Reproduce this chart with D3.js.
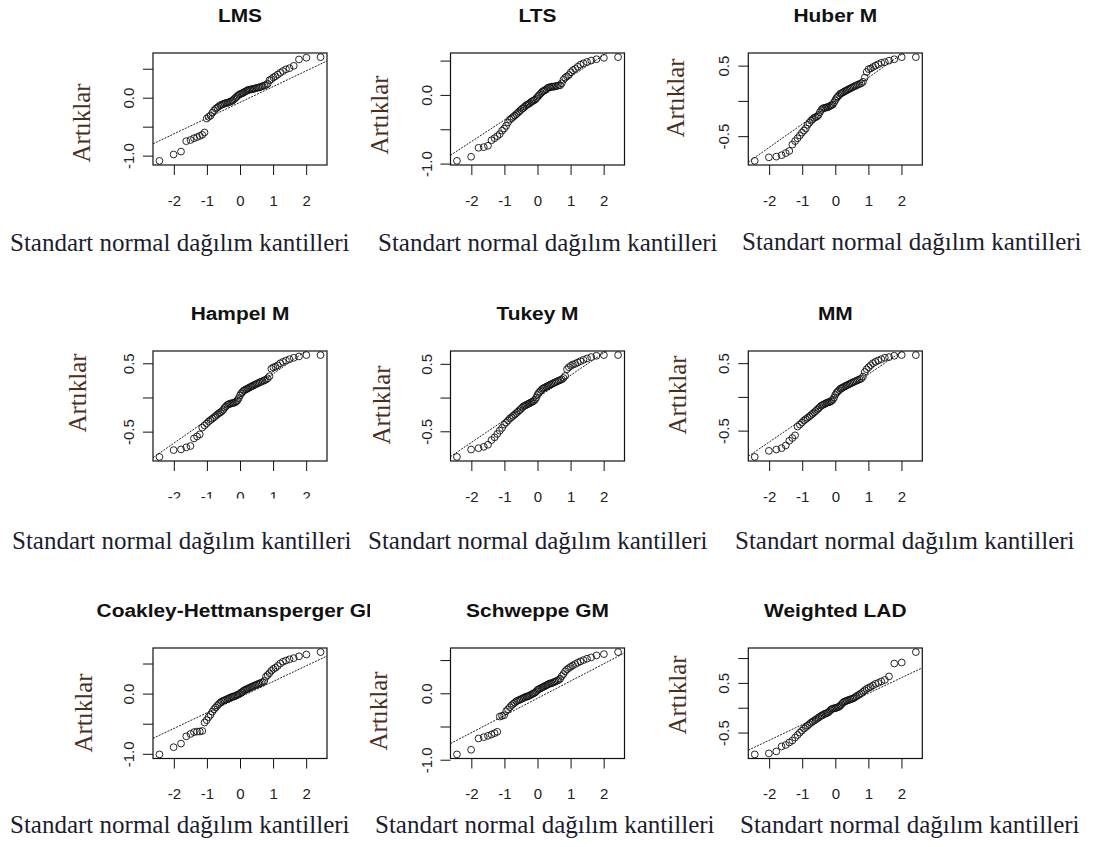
<!DOCTYPE html>
<html>
<head>
<meta charset="utf-8">
<script src="https://cdn.jsdelivr.net/npm/d3@7"></script>
<style>
  body { margin: 0; background: #fff; }
  svg { display: block; }
</style>
</head>
<body>
<script>

// theoretical normal quantiles, n = 67
var quantiles = [-2.435,-2.007,-1.783,-1.624,-1.497,-1.391,-1.298,-1.216,-1.141,-1.072,-1.008,-0.948,-0.891,-0.836,-0.784,-0.734,-0.686,-0.639,-0.594,-0.550,-0.507,-0.465,-0.424,-0.383,-0.343,-0.304,-0.265,-0.227,-0.189,-0.151,-0.113,-0.075,-0.037,0,
  0.037,0.075,0.113,0.151,0.189,0.227,0.265,0.304,0.343,0.383,0.424,0.465,0.507,0.550,0.594,0.639,0.686,0.734,0.784,0.836,0.891,0.948,1.008,1.072,1.141,1.216,1.298,1.391,1.497,1.624,1.783,2.007,2.435];

var titles = ["LMS", "LTS", "Huber M", "Hampel M", "Tukey M", "MM", "Coakley-Hettmansperger GM", "Schweppe GM", "Weighted LAD"];

// sorted residuals
var lmsResid = [-1.09,-0.98,-0.93,-0.75,-0.73,-0.70,-0.68,-0.66,-0.64,-0.60,-0.36,-0.33,-0.31,-0.26,-0.22,-0.19,-0.17,-0.15,-0.13,-0.12,-0.11,-0.10,-0.09,-0.09,-0.08,-0.07,-0.06,-0.05,-0.03,-0.01,0.01,0.03,0.05,0.06,
  0.07,0.08,0.09,0.105,0.115,0.13,0.135,0.14,0.145,0.15,0.155,0.16,0.17,0.175,0.18,0.19,0.20,0.21,0.22,0.24,0.30,0.32,0.35,0.37,0.40,0.43,0.46,0.49,0.51,0.55,0.66,0.69,0.70];
var ltsResid = [-0.96,-0.90,-0.77,-0.76,-0.74,-0.66,-0.63,-0.60,-0.57,-0.52,-0.49,-0.45,-0.40,-0.36,-0.34,-0.32,-0.30,-0.28,-0.26,-0.24,-0.22,-0.20,-0.19,-0.17,-0.15,-0.14,-0.13,-0.12,-0.10,-0.09,-0.08,-0.07,-0.05,-0.03,
  -0.01,0.01,0.03,0.05,0.06,0.07,0.08,0.10,0.11,0.11,0.12,0.12,0.12,0.13,0.13,0.14,0.14,0.17,0.22,0.25,0.27,0.29,0.33,0.36,0.38,0.41,0.44,0.46,0.48,0.50,0.52,0.54,0.55];
var huberResid = [-0.85,-0.80,-0.79,-0.77,-0.74,-0.71,-0.62,-0.57,-0.53,-0.49,-0.45,-0.42,-0.39,-0.34,-0.31,-0.28,-0.26,-0.24,-0.23,-0.22,-0.20,-0.16,-0.13,-0.11,-0.10,-0.10,-0.09,-0.09,-0.08,-0.07,-0.06,-0.05,-0.02,0.01,
  0.04,0.06,0.08,0.10,0.11,0.12,0.13,0.14,0.15,0.16,0.17,0.18,0.19,0.20,0.21,0.22,0.23,0.24,0.25,0.27,0.33,0.41,0.45,0.46,0.48,0.50,0.52,0.54,0.55,0.57,0.59,0.62,0.62];
var hampelResid = [-0.87,-0.77,-0.76,-0.73,-0.71,-0.60,-0.57,-0.54,-0.44,-0.41,-0.38,-0.35,-0.33,-0.31,-0.29,-0.27,-0.25,-0.23,-0.22,-0.20,-0.18,-0.15,-0.13,-0.11,-0.10,-0.09,-0.09,-0.08,-0.08,-0.07,-0.06,-0.04,-0.01,0.03,
  0.06,0.08,0.10,0.11,0.12,0.13,0.14,0.15,0.16,0.17,0.18,0.19,0.20,0.21,0.22,0.23,0.24,0.25,0.26,0.28,0.31,0.42,0.44,0.45,0.47,0.50,0.52,0.54,0.56,0.58,0.60,0.62,0.62];
var tukeyResid = [-0.88,-0.77,-0.75,-0.73,-0.70,-0.63,-0.59,-0.54,-0.49,-0.45,-0.40,-0.37,-0.34,-0.31,-0.29,-0.27,-0.25,-0.23,-0.21,-0.19,-0.17,-0.15,-0.13,-0.12,-0.11,-0.10,-0.09,-0.08,-0.07,-0.06,-0.05,-0.03,0.00,0.04,
  0.07,0.09,0.11,0.13,0.14,0.15,0.16,0.17,0.18,0.19,0.20,0.21,0.22,0.23,0.24,0.25,0.26,0.27,0.29,0.32,0.42,0.45,0.47,0.49,0.50,0.52,0.54,0.56,0.58,0.60,0.62,0.63,0.63];
var mmResid = [-0.89,-0.80,-0.78,-0.76,-0.72,-0.65,-0.61,-0.57,-0.44,-0.41,-0.38,-0.35,-0.33,-0.31,-0.29,-0.27,-0.25,-0.23,-0.21,-0.19,-0.17,-0.15,-0.13,-0.12,-0.11,-0.10,-0.09,-0.08,-0.08,-0.07,-0.06,-0.04,-0.01,0.03,
  0.06,0.08,0.10,0.12,0.13,0.14,0.15,0.16,0.17,0.18,0.19,0.20,0.21,0.22,0.23,0.24,0.25,0.26,0.27,0.30,0.37,0.41,0.44,0.47,0.50,0.52,0.54,0.56,0.58,0.59,0.61,0.62,0.62];
var chResid = [-1.01,-0.89,-0.83,-0.71,-0.67,-0.64,-0.63,-0.63,-0.62,-0.48,-0.44,-0.39,-0.35,-0.30,-0.26,-0.23,-0.20,-0.17,-0.15,-0.13,-0.12,-0.11,-0.10,-0.09,-0.08,-0.07,-0.06,-0.05,-0.05,-0.04,-0.03,-0.02,-0.01,0.00,
  0.02,0.03,0.05,0.06,0.07,0.08,0.09,0.10,0.11,0.12,0.13,0.14,0.15,0.16,0.17,0.18,0.19,0.21,0.28,0.31,0.34,0.38,0.41,0.43,0.46,0.50,0.53,0.55,0.57,0.59,0.62,0.65,0.69];
var schweppeResid = [-0.92,-0.85,-0.68,-0.66,-0.64,-0.62,-0.60,-0.58,-0.35,-0.34,-0.33,-0.27,-0.24,-0.21,-0.18,-0.16,-0.14,-0.12,-0.11,-0.10,-0.09,-0.08,-0.07,-0.06,-0.05,-0.05,-0.04,-0.03,-0.02,-0.01,0.00,0.01,0.03,0.05,
  0.06,0.07,0.08,0.09,0.10,0.11,0.12,0.13,0.14,0.15,0.15,0.16,0.17,0.18,0.19,0.20,0.22,0.26,0.29,0.33,0.36,0.38,0.40,0.42,0.44,0.46,0.48,0.50,0.52,0.54,0.57,0.59,0.62];
var wladResid = [-0.94,-0.92,-0.88,-0.78,-0.75,-0.70,-0.66,-0.60,-0.55,-0.50,-0.46,-0.42,-0.39,-0.36,-0.33,-0.30,-0.28,-0.26,-0.24,-0.22,-0.20,-0.18,-0.16,-0.15,-0.13,-0.12,-0.11,-0.10,-0.08,-0.05,-0.03,-0.02,-0.01,-0.01,
  0.00,0.01,0.02,0.04,0.07,0.10,0.12,0.13,0.14,0.15,0.16,0.17,0.18,0.19,0.21,0.23,0.25,0.27,0.29,0.32,0.35,0.38,0.40,0.42,0.45,0.48,0.50,0.53,0.56,0.63,0.89,0.91,1.12];

// reference line of each panel
var lineIntercepts = [-0.081, -0.05, 0.0, 0.007, -0.002, 0.0, -0.059, -0.075, -0.026];
var lineSlopes = [0.272, 0.315, 0.33, 0.338, 0.332, 0.335, 0.26, 0.259, 0.315];

var xTicks = [-2, -1, 0, 1, 2];
var yTicksWide = [-1, -0.5, 0, 0.5];
var yTicksNarrow = [-0.5, 0, 0.5];
var yTicksWlad = [-0.5, 0, 0.5, 1];
var yLabelsWide = [-1, 0];
var yLabelsNarrow = [-0.5, 0.5];

var xLabelText = "Standart normal dağılım kantilleri";
var yLabelText = "Artıklar";

var residuals = [lmsResid, ltsResid, huberResid, hampelResid, tukeyResid, mmResid, chResid, schweppeResid, wladResid];
var yTickSets = [yTicksWide, yTicksWide, yTicksNarrow, yTicksNarrow, yTicksNarrow, yTicksNarrow, yTicksWide, yTicksWide, yTicksWlad];
var yLabelSets = [yLabelsWide, yLabelsWide, yLabelsNarrow, yLabelsNarrow, yLabelsNarrow, yLabelsNarrow, yLabelsWide, yLabelsWide, yLabelsNarrow];

// layout (pixels)
var width = 1096
  , height = 847
  , boxW = 174
  , boxLeft = [153, 450.5, 748.3]
  , boxTop = [53, 351, 648]
  , boxH = [112, 110, 110.5]
  , colClip = [[0, 370], [370, 735], [735, 1096]];

var yLabPos = [[90,123],[388,115],[684,98],[86,393],[390,405],[686,395],[92,713],[387,711],[686,695]];
var xLabPos = [[10,251],[378,251],[742,250],[12,549],[368,549],[735,549],[10,833],[375,833],[740,833]];

var sansFont = "'Liberation Sans', Arial, sans-serif"
  , serifFont = "'Liberation Serif', 'Times New Roman', serif";

var svg = d3.select("body").append("svg")
    .attr("width", width)
    .attr("height", height);

var defs = svg.append("defs");

function padDomain(ext) {
  var r = ext[1] - ext[0];
  return [ext[0] - 0.04 * r, ext[1] + 0.04 * r];
}

residuals.forEach(function(resid, p) {

  var col = p % 3
    , row = Math.floor(p / 3)
    , left = boxLeft[col]
    , top = boxTop[row]
    , h = boxH[row];

  var x = d3.scaleLinear()
      .domain(padDomain(d3.extent(quantiles)))
      .range([0, boxW]);

  var y = d3.scaleLinear()
      .domain(padDomain(d3.extent(resid)))
      .range([h, 0]);

  var g = svg.append("g")
      .attr("transform", "translate(" + left + "," + top + ")");

  defs.append("clipPath")
      .attr("id", "box" + p)
    .append("rect")
      .attr("width", boxW)
      .attr("height", h);

  // the picture of each panel ends at its column edge, so long titles are cut
  defs.append("clipPath")
      .attr("id", "cell" + p)
    .append("rect")
      .attr("x", colClip[col][0] - left)
      .attr("y", -60)
      .attr("width", colClip[col][1] - colClip[col][0])
      .attr("height", 60);

  // reference line
  var xd = x.domain();
  g.append("line")
      .attr("clip-path", "url(#box" + p + ")")
      .attr("x1", x(xd[0]))
      .attr("y1", y(lineIntercepts[p] + lineSlopes[p] * xd[0]))
      .attr("x2", x(xd[1]))
      .attr("y2", y(lineIntercepts[p] + lineSlopes[p] * xd[1]))
      .style("stroke", "#222")
      .style("stroke-width", 1)
      .style("stroke-dasharray", "2,1.2");

  // points
  g.selectAll(".pt")
      .data(resid)
    .enter().append("circle")
      .attr("class", "pt")
      .attr("cx", function(d, i) { return x(quantiles[i]); })
      .attr("cy", function(d, i) { return y(d); })
      .attr("r", 3.4)
      .style("fill", "none")
      .style("stroke", "#111")
      .style("stroke-width", 0.9);

  // x axis
  var xAxis = g.append("g")
      .attr("transform", "translate(0," + h + ")")
      .call(d3.axisBottom(x)
        .tickValues(xTicks)
        .tickSize(10)
        .tickPadding(20)
        .tickFormat(function(d) { return String(d); }));
  xAxis.select(".domain").remove();
  xAxis.selectAll("line").style("stroke", "#111");
  xAxis.selectAll("text")
      .style("font-family", sansFont)
      .style("font-size", "15px")
      .style("fill", "#222");

  // y axis, labels rotated like R
  var labelled = yLabelSets[p];
  var yAxis = g.append("g")
      .call(d3.axisLeft(y)
        .tickValues(yTickSets[p])
        .tickSize(10)
        .tickFormat(function(d) { return labelled.indexOf(d) >= 0 ? d.toFixed(1) : ""; }));
  yAxis.select(".domain").remove();
  yAxis.selectAll("line").style("stroke", "#111");
  yAxis.selectAll("text")
      .attr("x", null)
      .attr("dy", null)
      .attr("text-anchor", "middle")
      .attr("transform", "translate(-19,0) rotate(-90)")
      .style("font-family", sansFont)
      .style("font-size", "15px")
      .style("fill", "#222");

  // box
  g.append("rect")
      .attr("width", boxW)
      .attr("height", h)
      .style("fill", "none")
      .style("stroke", "#111")
      .style("stroke-width", 1.2);

  // title
  g.append("g")
      .attr("clip-path", "url(#cell" + p + ")")
    .append("text")
      .attr("transform", "translate(" + (boxW / 2) + "," + (-31) + ") scale(1.1,1)")
      .attr("text-anchor", "middle")
      .style("font-family", sansFont)
      .style("font-weight", "bold")
      .style("font-size", "19px")
      .style("fill", "#111")
      .text(titles[p]);

  // axis titles
  svg.append("text")
      .attr("transform", "translate(" + yLabPos[p][0] + "," + yLabPos[p][1] + ") rotate(-90)")
      .attr("text-anchor", "middle")
      .style("font-family", serifFont)
      .style("font-size", "25px")
      .style("fill", "#4a2f1c")
      .text(yLabelText);

  svg.append("text")
      .attr("x", xLabPos[p][0])
      .attr("y", xLabPos[p][1])
      .style("font-family", serifFont)
      .style("font-size", "25px")
      .style("fill", "#1c1c2e")
      .text(xLabelText);
});

// the Hampel tick labels are cut off at the bottom in the original figure
svg.append("rect")
    .attr("x", 140)
    .attr("y", 498.5)
    .attr("width", 200)
    .attr("height", 10)
    .style("fill", "#fff");

</script>
</body>
</html>
